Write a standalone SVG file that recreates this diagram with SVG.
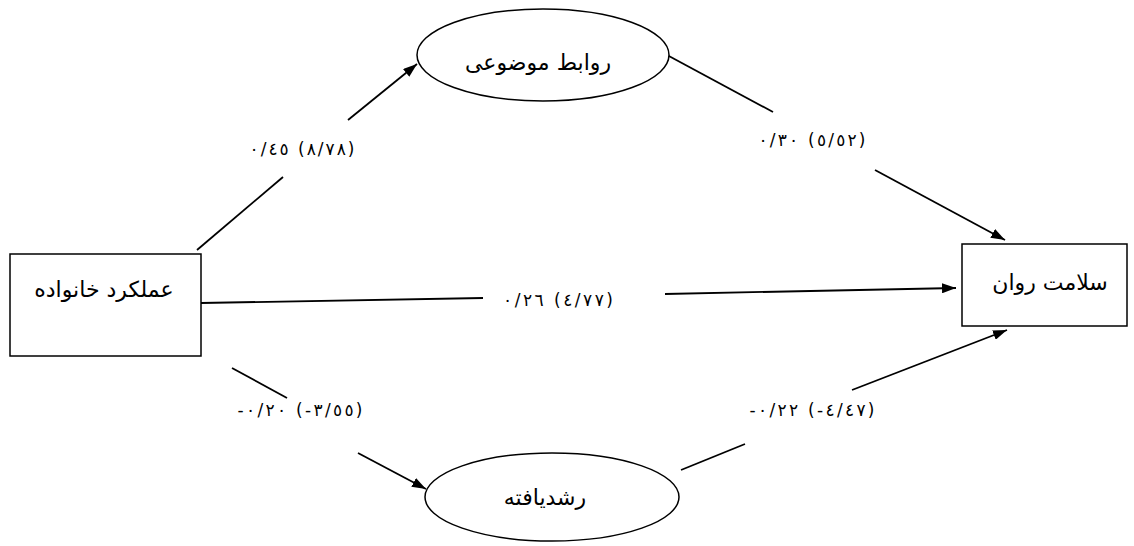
<svg xmlns="http://www.w3.org/2000/svg" width="1134" height="546" viewBox="0 0 1134 546">
<style>
.node{fill:#fff;stroke:#000;stroke-width:1.5}
.lbl{font-family:"DejaVu Sans",sans-serif;font-size:22px;fill:#000;text-anchor:middle;direction:rtl}
.num{font-family:"DejaVu Sans",sans-serif;font-size:17px;fill:#000;text-anchor:middle;direction:ltr;unicode-bidi:bidi-override}
.edge{stroke:#000;stroke-width:1.8;fill:none}
</style>
<defs>
<marker id="ah" viewBox="0 0 14 10" refX="14" refY="5" markerWidth="14" markerHeight="10" markerUnits="userSpaceOnUse" orient="auto">
<path d="M0,0 L14,5 L0,10 z" fill="#000"/>
</marker>
</defs>
<rect width="1134" height="546" fill="#fff"/>
<g id="connectors">
<line class="edge" x1="197" y1="250" x2="283" y2="177"/>
<line class="edge" x1="348" y1="120" x2="417" y2="64" marker-end="url(#ah)"/>
<line class="edge" x1="667" y1="55" x2="773" y2="112"/>
<line class="edge" x1="875" y1="170" x2="1005" y2="240" marker-end="url(#ah)"/>
<line class="edge" x1="201" y1="303" x2="483" y2="298"/>
<line class="edge" x1="665" y1="294" x2="956" y2="288" marker-end="url(#ah)"/>
<line class="edge" x1="232" y1="368" x2="287" y2="398"/>
<line class="edge" x1="358" y1="453" x2="426" y2="489" marker-end="url(#ah)"/>
<line class="edge" x1="681" y1="470" x2="745" y2="444"/>
<line class="edge" x1="852" y1="390" x2="1007" y2="330" marker-end="url(#ah)"/>
<text class="num" x="302" y="155" textLength="105" lengthAdjust="spacing">٠/٤٥ (٨/٧٨)</text>
<text class="num" x="812" y="146" textLength="107" lengthAdjust="spacing">٠/٣٠ (٥/٥٢)</text>
<text class="num" x="558" y="306" textLength="110" lengthAdjust="spacing">٠/٢٦ (٤/٧٧)</text>
<text class="num" x="300" y="416" textLength="125" lengthAdjust="spacing">-٠/٢٠ (-٣/٥٥)</text>
<text class="num" x="812" y="416" textLength="125" lengthAdjust="spacing">-٠/٢٢ (-٤/٤٧)</text>
</g>
<g id="family">
<rect class="node" x="10" y="254" width="191" height="102"/>
<text class="lbl" x="104" y="297">عملکرد خانواده</text>
</g>
<g id="health">
<rect class="node" x="962" y="244" width="165" height="82"/>
<text class="lbl" x="1050" y="290">سلامت روان</text>
</g>
<g id="object">
<ellipse class="node" cx="543" cy="55" rx="126" ry="46"/>
<text class="lbl" x="538" y="70">روابط موضوعی</text>
</g>
<g id="grown">
<ellipse class="node" cx="552" cy="497" rx="127" ry="44"/>
<text class="lbl" x="545" y="505">رشدیافته</text>
</g>
</svg>
